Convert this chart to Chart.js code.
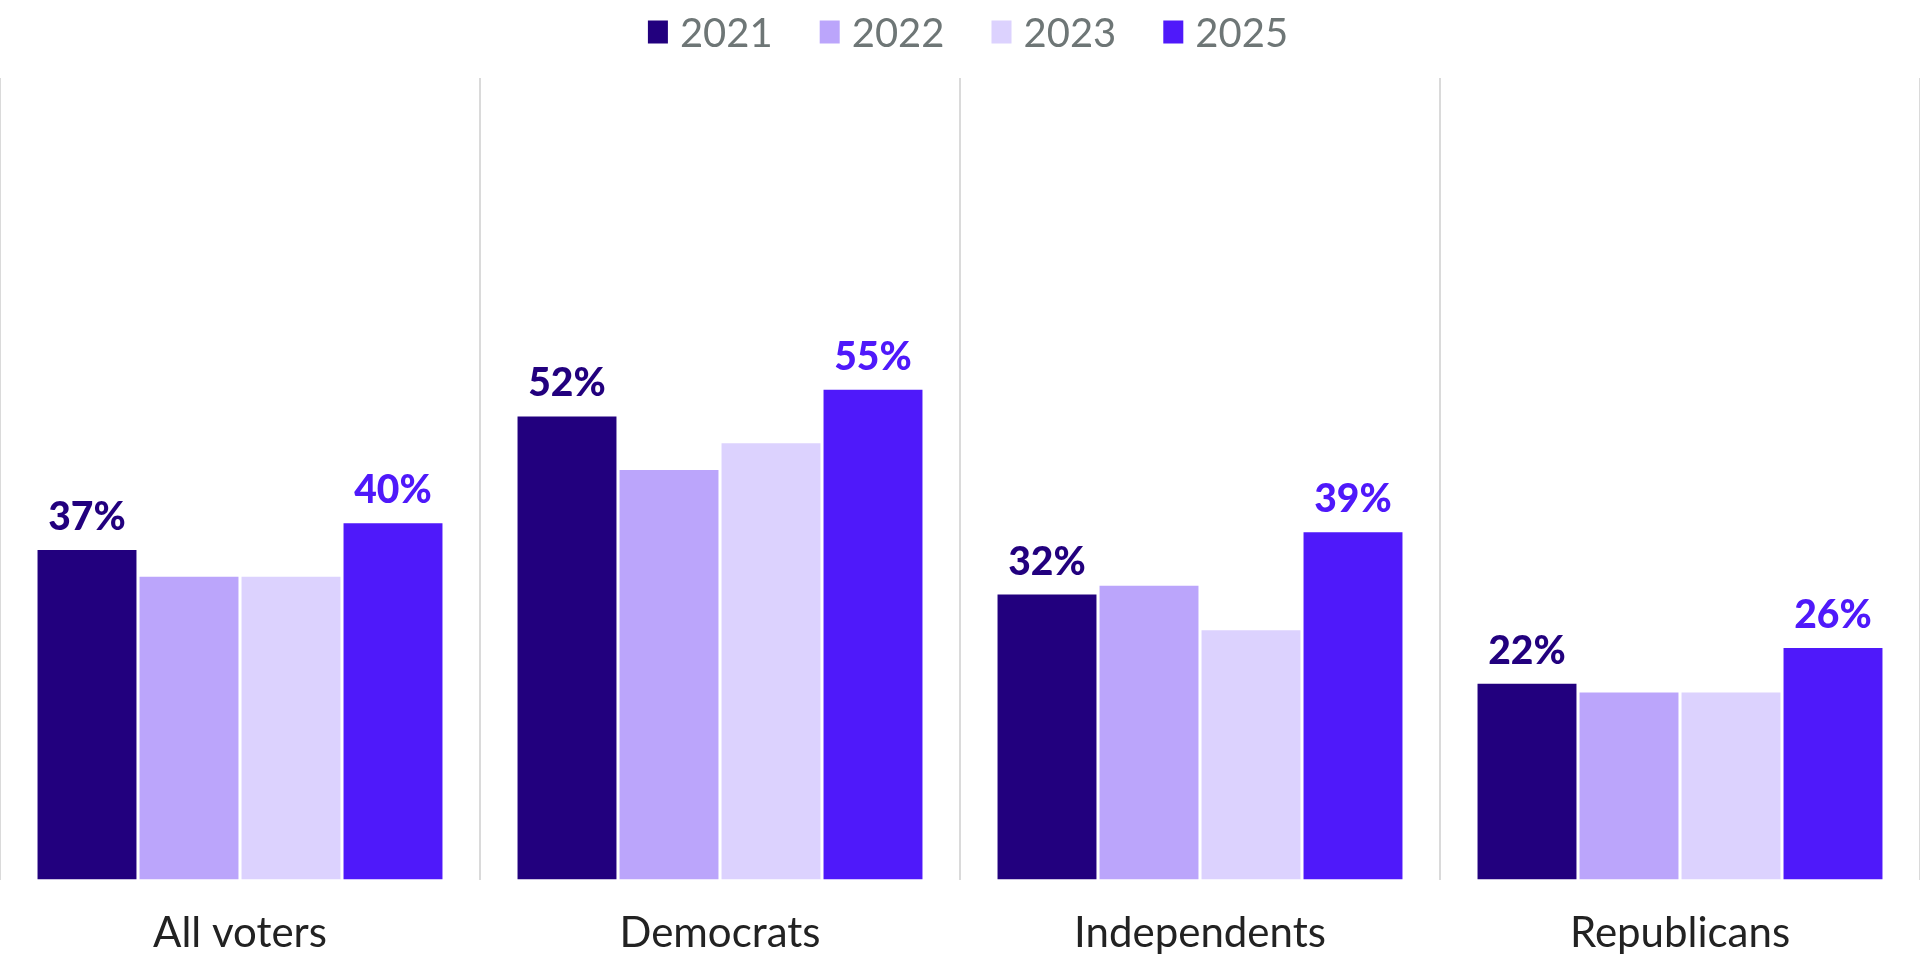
<!DOCTYPE html>
<html>
<head>
<meta charset="utf-8">
<script src="https://cdn.jsdelivr.net/npm/chart.js@4"></script>
<style>
  html, body { margin: 0; padding: 0; background: #ffffff; }
  #wrap { width: 1920px; height: 960px; position: relative; }
</style>
</head>
<body>
<div id="wrap"><canvas id="c"></canvas></div>
<script>
const categories = ["All voters", "Democrats", "Independents", "Republicans"];
const seriesNames = ["2021", "2022", "2023", "2025"];
const values2021 = [37, 52, 32, 22];
const values2022 = [34, 46, 33, 21];
const values2023 = [34, 49, 28, 21];
const values2025 = [40, 55, 39, 26];
const seriesColors = ["#22007E", "#BBA5FB", "#DCD2FE", "#4F19FA"];
const labeledSeries = [true, false, false, true];
const yMax = 90;

const FONT = "Lato, 'Open Sans', sans-serif";

const seriesValues = [values2021, values2022, values2023, values2025];

const customLegend = {
  id: 'customLegend',
  afterDraw(chart) {
    const ctx = chart.ctx;
    ctx.save();
    ctx.font = `400 40px ${FONT}`;
    const boxW = 20, boxH = 23, gapBoxText = 12, gapItems = 47;
    const widths = seriesNames.map(n => ctx.measureText(n).width);
    let total = 0;
    widths.forEach((w, i) => { total += boxW + gapBoxText + w; if (i < widths.length - 1) total += gapItems; });
    let x = (chart.width - total) / 2 + 8;
    const cy = 32;
    ctx.textBaseline = 'middle';
    ctx.textAlign = 'left';
    seriesNames.forEach((n, i) => {
      ctx.fillStyle = seriesColors[i];
      ctx.fillRect(x, cy - boxH / 2, boxW, boxH);
      x += boxW + gapBoxText;
      ctx.fillStyle = '#6E7676';
      ctx.fillText(n, x, cy + 2);
      x += widths[i] + gapItems;
    });
    ctx.restore();
  }
};

const barLabels = {
  id: 'barLabels',
  afterDatasetsDraw(chart) {
    const ctx = chart.ctx;
    ctx.save();
    ctx.font = `900 39px ${FONT}`;
    ctx.textAlign = 'center';
    ctx.textBaseline = 'alphabetic';
    chart.data.datasets.forEach((ds, di) => {
      if (!labeledSeries[di]) return;
      const meta = chart.getDatasetMeta(di);
      meta.data.forEach((bar, i) => {
        ctx.fillStyle = seriesColors[di];
        ctx.fillText(ds.data[i] + '%', bar.x, bar.y - 20);
      });
    });
    ctx.restore();
  }
};

new Chart(document.getElementById('c'), {
  type: 'bar',
  data: {
    labels: categories,
    datasets: seriesNames.map((n, i) => ({
      label: n,
      data: seriesValues[i],
      backgroundColor: seriesColors[i],
      borderWidth: 0,
      categoryPercentage: 0.85,
      barPercentage: 0.97
    }))
  },
  options: {
    responsive: true,
    maintainAspectRatio: false,
    animation: false,
    devicePixelRatio: 1,
    layout: { padding: { top: 78, left: 0, right: 0, bottom: -28 } },
    plugins: { legend: { display: false }, tooltip: { enabled: false } },
    scales: {
      x: {
        grid: { display: true, offset: true, color: '#DADADA', lineWidth: 2, drawTicks: false },
        border: { display: false },
        ticks: { color: '#222222', font: { family: FONT, size: 42 }, padding: 29 }
      },
      y: {
        display: false,
        min: 0,
        max: yMax,
        grid: { display: false }
      }
    }
  },
  plugins: [customLegend, barLabels]
});
</script>
</body>
</html>
